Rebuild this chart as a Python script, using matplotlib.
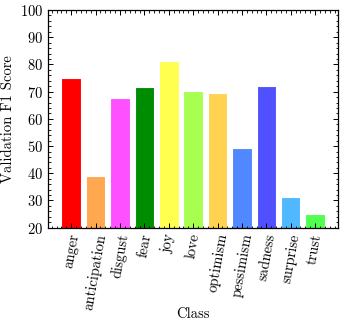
import matplotlib
matplotlib.use("Agg")
import matplotlib.pyplot as plt
from matplotlib.ticker import AutoMinorLocator, MultipleLocator

# validation F1 per emotion class
classes = ["anger", "anticipation", "disgust", "fear", "joy", "love",
           "optimism", "pessimism", "sadness", "surprise", "trust"]
scores = [75.0, 38.9, 67.8, 71.7, 81.2, 70.1, 69.5, 49.4, 71.9, 31.3, 25.0]
colors = ["#ff0000", "#ffa850", "#ff50ff", "#008c00", "#ffff50", "#a8ff50",
          "#ffd250", "#5088ff", "#5050ff", "#50b8ff", "#50ff50"]

plt.rcParams.update({
    "font.family": "serif",
    "font.serif": ["cmr10"],
    "mathtext.fontset": "cm",
    "axes.formatter.use_mathtext": True,
    "font.size": 10.5,
    "axes.linewidth": 0.9,
    "xtick.direction": "in",
    "ytick.direction": "in",
    "xtick.top": True,
    "ytick.right": True,
    "xtick.major.size": 3.5,
    "ytick.major.size": 3.5,
    "xtick.minor.size": 1.8,
    "ytick.minor.size": 1.8,
    "xtick.major.width": 0.7,
    "ytick.major.width": 0.7,
    "xtick.minor.width": 0.6,
    "ytick.minor.width": 0.6,
})

fig = plt.figure(figsize=(3.44, 3.27), dpi=100)
ax = fig.add_axes([0.1404, 0.3037, 0.8422, 0.6657])

ax.bar(range(len(classes)), scores, color=colors, edgecolor="white", linewidth=0.8)
ax.set_ylim(20, 100)
ax.yaxis.set_major_locator(MultipleLocator(10))
ax.set_xticks(range(len(classes)))
ax.set_xticklabels(classes, rotation=80)
ax.xaxis.set_minor_locator(AutoMinorLocator(5))
ax.yaxis.set_minor_locator(AutoMinorLocator(5))
ax.set_ylabel("Validation F1 Score")
ax.yaxis.set_label_coords(-0.115, 0.5)
ax.set_xlabel("Class")
ax.xaxis.set_label_coords(0.5, -0.365)

fig.savefig("out.png", dpi=100)
